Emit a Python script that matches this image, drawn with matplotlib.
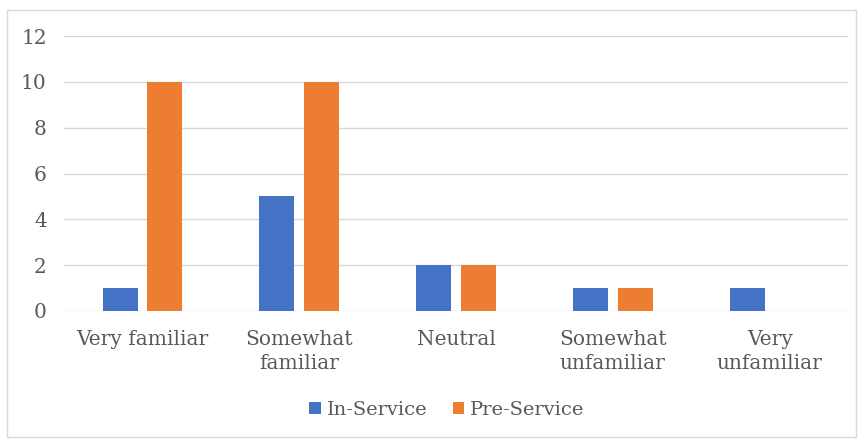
import matplotlib
matplotlib.use("Agg")
import matplotlib.pyplot as plt
import numpy as np
from matplotlib.patches import Rectangle

categories = ["Very familiar", "Somewhat\nfamiliar", "Neutral", "Somewhat\nunfamiliar", "Very\nunfamiliar"]
in_service = [1, 5, 2, 1, 1]
pre_service = [10, 10, 2, 1, 0]
yticks = [0, 2, 4, 6, 8, 10, 12]

blue = "#4472C4"
orange = "#ED7D31"
text_gray = "#595959"

plt.rcParams["font.family"] = ["DejaVu Serif"]

fig = plt.figure(figsize=(8.64, 4.43), dpi=100)
ax = fig.add_axes([64 / 864, 1 - 311 / 443, (848 - 64) / 864, (311 - 36) / 443])

x = np.arange(len(categories))
w = 0.223
off = 0.142
ax.bar(x - off, in_service, w, color=blue, label="In-Service", zorder=3)
ax.bar(x + off, pre_service, w, color=orange, label="Pre-Service", zorder=3)

ax.set_xlim(-0.5, len(categories) - 0.5)
ax.set_ylim(0, 12)
ax.set_yticks(yticks)
ax.set_xticks(x)
ax.set_xticklabels(categories, fontsize=14.5, color=text_gray, linespacing=1.3)
ax.tick_params(axis="y", labelsize=14.5, labelcolor=text_gray, length=0, pad=12.5)
ax.tick_params(axis="x", length=0, pad=14)
ax.grid(axis="y", color="#D9D9D9", linewidth=1, zorder=0)
for s in ax.spines.values():
    s.set_visible(False)

leg = fig.legend(loc="center", bbox_to_anchor=(447 / 864, 1 - 410 / 443), ncol=2,
                 frameon=False, fontsize=14, handlelength=0.6, handleheight=0.6,
                 handletextpad=0.3, columnspacing=1.3)
for t in leg.get_texts():
    t.set_color(text_gray)

# outer chart border
fig.patches.append(Rectangle((7 / 864, 1 - 437 / 443), (856 - 7) / 864, (437 - 10) / 443,
                             transform=fig.transFigure, fill=False,
                             edgecolor="#D9D9D9", linewidth=1))

fig.savefig("out.png", dpi=100)
